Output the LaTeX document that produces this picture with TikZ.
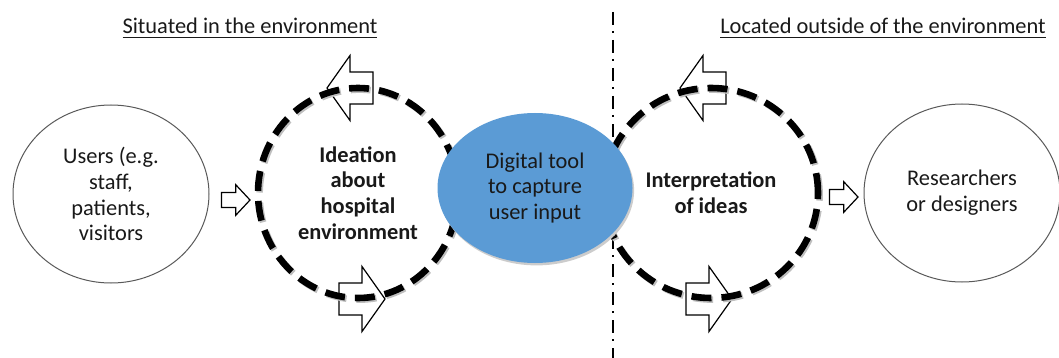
\documentclass[tikz,border=0pt]{standalone}
\usepackage{fontspec}
\setmainfont{Carlito}
\usetikzlibrary{shapes.geometric}
\definecolor{toolblue}{HTML}{5B9BD5}

\begin{document}
\begin{tikzpicture}[x=0.5pt, y=-0.5pt,
  every node/.style={font=\fontsize{11.2}{12.9}\selectfont, text=black!90, align=center},
  party/.style={ellipse, draw=black!65, line width=0.5pt, minimum width=98pt, minimum height=89pt, inner sep=0pt},
  loop/.style={ellipse, draw=black, line width=3.3pt, dash pattern=on 10pt off 5pt, minimum height=105pt, inner sep=0pt,
    preaction={draw=black!25, transform canvas={shift={(0.8pt,-0.8pt)}}},
    font=\fontsize{11.2}{12.9}\selectfont\bfseries},
  tool/.style={ellipse, fill=toolblue, minimum width=97.5pt, minimum height=75pt, inner sep=0pt,
    preaction={fill=black!20, transform canvas={shift={(0.8pt,-1.2pt)}}}},
  divider/.style={line width=1pt, dash pattern=on 6.5pt off 3pt on 1pt off 3.5pt},
  blockarrow/.pic={\draw[black, line width=0.6pt, fill=white] (0,0) -- (-23,-32.5) -- (-23,-16) -- (-46,-16) -- (-46,16) -- (-23,16) -- (-23,32.5) -- cycle;}
]
\useasboundingbox (0,0) rectangle (1059,358);

% inside / outside
\coordinate (divtop) at (613,12);
\coordinate (divbot) at (613,358);
\draw[divider] (divtop) -- (divbot);

% block arrows
\pic[xscale=0.62, yscale=0.47] at (250,200) {blockarrow};
\pic[xscale=-1] at (327,88) {blockarrow};
\pic at (385,299) {blockarrow};
\pic[xscale=-1] at (680,88) {blockarrow};
\pic at (732,299) {blockarrow};
\pic[xscale=0.62, yscale=0.47] at (858,197) {blockarrow};

\node[loop, minimum width=100pt] (ideation) at (358,193) {Ideation\\about\\hospital\\environment};
\node[loop, minimum width=107pt] (interp) at (711,193) {Interpretation\\of ideas};

\node[tool] (tool) at (535,188) {Digital tool\\to capture\\user input};

\node[party] (users) at (111,194) {Users (e.g.\\staff,\\patients,\\visitors};
\node[party] (research) at (962,193) {Researchers\\or designers};

\node[anchor=base] (insidehead) at (250,34) {\underline{Situated in the environment}};
\node[anchor=base] (outsidehead) at (883,34) {\underline{Located outside of the environment}};
\end{tikzpicture}
\end{document}
